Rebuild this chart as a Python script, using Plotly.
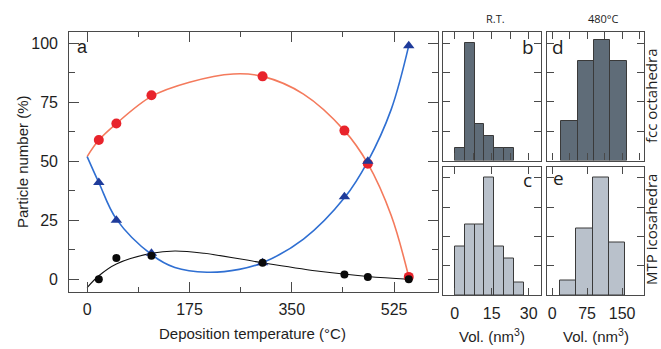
import plotly.graph_objects as go

# ---------------- data ----------------
# panel a: measured points
temps = [20, 50, 110, 300, 440, 480, 550]
fcc_pct = [59, 66, 78, 86, 63, 49, 1]
mtp_pct = [41, 25, 11, 7, 35, 50, 99]
other_pct = [0, 9, 10, 7, 2, 1, 0]

# panel a: guide-to-the-eye curves
fcc_curve_x = [0, 20, 50, 110, 175, 250, 300, 370, 440, 480, 520, 550]
fcc_curve_y = [52, 59, 66, 77.5, 83.5, 87, 86, 78.5, 63, 49, 27, 1]
mtp_curve_x = [0, 20, 50, 110, 150, 205, 260, 300, 370, 440, 480, 520, 550]
mtp_curve_y = [52, 41, 25.5, 10.5, 5, 3, 4.2, 7, 17, 34.5, 50, 72, 99]
oth_curve_x = [0, 20, 50, 110, 150, 200, 300, 400, 480, 550]
oth_curve_y = [-3.5, 1.5, 6.5, 11, 12, 11, 7, 3.3, 1.2, 0]

# histograms (bin centres and counts)
rt_fcc_bins = [2, 6, 10, 14, 18, 22]
rt_fcc_counts = [1.05, 9.8, 3.0, 2.0, 1.05, 1.05]
rt_mtp_bins = [2, 6, 10, 14, 18, 22, 26]
rt_mtp_counts = [4.0, 5.9, 5.9, 9.8, 4.0, 3.0, 1.0]
ht_fcc_bins = [37.5, 72.5, 107.5, 142.5]
ht_fcc_counts = [3.3, 8.3, 10.0, 8.3]
ht_mtp_bins = [34.5, 69.5, 104.5, 139.5]
ht_mtp_counts = [1.2, 5.5, 9.8, 4.4]

x_ticks_a = [0, 175, 350, 525]
y_ticks_a = [0, 25, 50, 75, 100]
rt_ticks = [0, 15, 30]
ht_ticks = [0, 75, 150]

# ---------------- figure ----------------
W, H = 661, 349
def xd(a, b):
    return [a / W, b / W]
def yd(top, bottom):
    return [1 - bottom / H, 1 - top / H]

RED_L = "#f47a5c"
RED_M = "#e8232b"
BLUE_L = "#2f6fd2"
BLUE_M = "#1f3b9a"
DARK = "#5f6c78"
LIGHT = "#b9c1cb"
EDGE = "#3a3a3a"
FRAME = "#4a4a4a"
TXT = "#1e1e1e"

MAIN_X = [-31, 600]
MAIN_Y = [-5.4, 104.8]
RT_X = [-4.8, 35]
HT_X = [-11, 197]
HY = [0, 10.7]
hy_ticks = [2.44, 4.88, 7.32, 9.76]
x_minor = [(a + b) / 2 for a, b in zip(x_ticks_a[:-1], x_ticks_a[1:])]
y_minor = [(a + b) / 2 for a, b in zip(y_ticks_a[:-1], y_ticks_a[1:])]

fig = go.Figure()

def curve(x, y, col, w):
    fig.add_trace(go.Scatter(x=x, y=y, mode="lines", line=dict(color=col, width=w, shape="spline"),
                             xaxis="x", yaxis="y", hoverinfo="skip"))

curve(fcc_curve_x, fcc_curve_y, RED_L, 1.6)
curve(mtp_curve_x, mtp_curve_y, BLUE_L, 1.6)
curve(oth_curve_x, oth_curve_y, "#111111", 1.1)
fig.add_trace(go.Scatter(x=temps, y=fcc_pct, mode="markers", name="fcc octahedra", marker=dict(color=RED_M, size=10, symbol="circle"), xaxis="x", yaxis="y", cliponaxis=False))
fig.add_trace(go.Scatter(x=temps, y=mtp_pct, mode="markers", name="MTP icosahedra", marker=dict(color=BLUE_M, size=10, symbol="triangle-up"), xaxis="x", yaxis="y", cliponaxis=False))
fig.add_trace(go.Scatter(x=temps, y=other_pct, mode="markers", name="other", marker=dict(color="#0a0a0a", size=8, symbol="circle"), xaxis="x", yaxis="y", cliponaxis=False))

def hist(x, y, col, w, xa, ya):
    fig.add_trace(go.Bar(x=x, y=y, width=w, marker=dict(color=col, line=dict(color=EDGE, width=1)), xaxis=xa, yaxis=ya, showlegend=False))

hist(rt_fcc_bins, rt_fcc_counts, DARK, 4, "x2", "y2")
hist(rt_mtp_bins, rt_mtp_counts, LIGHT, 4, "x3", "y3")
hist(ht_fcc_bins, ht_fcc_counts, DARK, 35, "x4", "y4")
hist(ht_mtp_bins, ht_mtp_counts, LIGHT, 35, "x5", "y5")

# empty helper traces so the frame axes of panel a exist as their own subplots
fig.add_trace(go.Scatter(x=[None], y=[None], xaxis="x10", yaxis="y10", showlegend=False, hoverinfo="skip"))
fig.add_trace(go.Scatter(x=[None], y=[None], xaxis="x11", yaxis="y11", showlegend=False, hoverinfo="skip"))

tickfont = dict(family="Liberation Sans, Arial, sans-serif", size=16, color=TXT)
frame = dict(showline=True, linecolor=FRAME, linewidth=1.3, mirror="allticks", ticks="inside",
             tickcolor=FRAME, tickwidth=1.2, showgrid=False, zeroline=False, tickfont=tickfont)
minor_ax = dict(showline=False, mirror="allticks", ticks="inside", tickcolor=FRAME, tickwidth=1.2,
                showgrid=False, zeroline=False, showticklabels=False)
labels_only = dict(showline=False, ticks="", showgrid=False, zeroline=False, tickfont=tickfont)

layout = dict(
    width=W, height=H, margin=dict(l=0, r=0, t=0, b=0),
    paper_bgcolor="white", plot_bgcolor="rgba(0,0,0,0)", showlegend=False, bargap=0,
    # panel a: data axes carry the tick labels
    xaxis=dict(domain=xd(69, 438), anchor="y", range=MAIN_X, tickvals=x_ticks_a, ticklabelstandoff=6, **labels_only),
    yaxis=dict(domain=yd(32, 292), anchor="x", range=MAIN_Y, tickvals=y_ticks_a, ticklabelstandoff=10, **labels_only),
    # panel a: frame with major ticks
    xaxis10=dict(domain=xd(69, 438), anchor="y10", range=MAIN_X, tickvals=x_ticks_a, ticklen=10, showticklabels=False, **frame),
    yaxis10=dict(domain=yd(32, 292), anchor="x10", range=MAIN_Y, tickvals=y_ticks_a, ticklen=10, showticklabels=False, **frame),
    # panel a: minor ticks
    xaxis11=dict(domain=xd(69, 438), anchor="y11", range=MAIN_X, tickvals=x_minor, ticklen=5, **minor_ax),
    yaxis11=dict(domain=yd(32, 292), anchor="x11", range=MAIN_Y, tickvals=y_minor, ticklen=6, **minor_ax),

    xaxis2=dict(domain=xd(443, 541), anchor="y2", range=RT_X, tickvals=[0, 7.5, 15, 22.5, 30], ticklen=7, showticklabels=False, **frame),
    yaxis2=dict(domain=yd(32, 160.5), anchor="x2", range=HY, tickvals=hy_ticks, ticklen=7, showticklabels=False, **frame),
    xaxis3=dict(domain=xd(443, 541), anchor="y3", range=RT_X, tickvals=rt_ticks, ticklen=7, ticklabelstandoff=4, **frame),
    yaxis3=dict(domain=yd(166.5, 295), anchor="x3", range=HY, tickvals=hy_ticks, ticklen=7, showticklabels=False, **frame),
    xaxis7=dict(overlaying="x3", anchor="y3", range=RT_X, tickvals=[7.5, 22.5], ticklen=7, **minor_ax),

    xaxis4=dict(domain=xd(547, 644), anchor="y4", range=HT_X, tickvals=[0, 37.5, 75, 112.5, 150, 187.5], ticklen=7, showticklabels=False, **frame),
    yaxis4=dict(domain=yd(32, 160.5), anchor="x4", range=HY, tickvals=hy_ticks, ticklen=7, showticklabels=False, **frame),
    xaxis5=dict(domain=xd(547, 644), anchor="y5", range=HT_X, tickvals=ht_ticks, ticklen=7, ticklabelstandoff=4, **frame),
    yaxis5=dict(domain=yd(166.5, 295), anchor="x5", range=HY, tickvals=hy_ticks, ticklen=7, showticklabels=False, **frame),
    xaxis8=dict(overlaying="x5", anchor="y5", range=HT_X, tickvals=[37.5, 112.5, 187.5], ticklen=7, **minor_ax),
)
fig.update_layout(**layout)

def ann(text, x, y, size, family="Liberation Sans, Arial, sans-serif", angle=0, xanchor="center"):
    fig.add_annotation(text=text, x=x / W, y=1 - y / H, xref="paper", yref="paper", showarrow=False,
                       font=dict(family=family, size=size, color=TXT), textangle=angle, xanchor=xanchor, yanchor="middle")

ann("Deposition temperature (°C)", 252, 333, 15)
ann("Particle number (%)", 22, 162, 15, angle=-90)
ann("a", 82, 47, 18)
ann("b", 528, 47, 19, family="Open Sans, sans-serif")
ann("d", 558, 47, 19, family="Open Sans, sans-serif")
ann("c", 527, 180, 19, family="Open Sans, sans-serif")
ann("e", 558, 178, 19, family="Open Sans, sans-serif")
ann("R.T.", 495, 18, 11, family="Open Sans, sans-serif")
ann("480°C", 603, 18, 11, family="Open Sans, sans-serif")
ann("fcc octahedra", 651, 96, 15, family="Open Sans, sans-serif", angle=-90)
ann("MTP icosahedra", 651, 230, 15, family="Open Sans, sans-serif", angle=-90)
ann("Vol. (nm<sup>3</sup>)", 492, 335, 15)
ann("Vol. (nm<sup>3</sup>)", 596, 335, 15)

fig.write_html("out.html", config={"displayModeBar": False},
               post_script="document.body.style.margin='0px';document.body.style.overflow='hidden';")
